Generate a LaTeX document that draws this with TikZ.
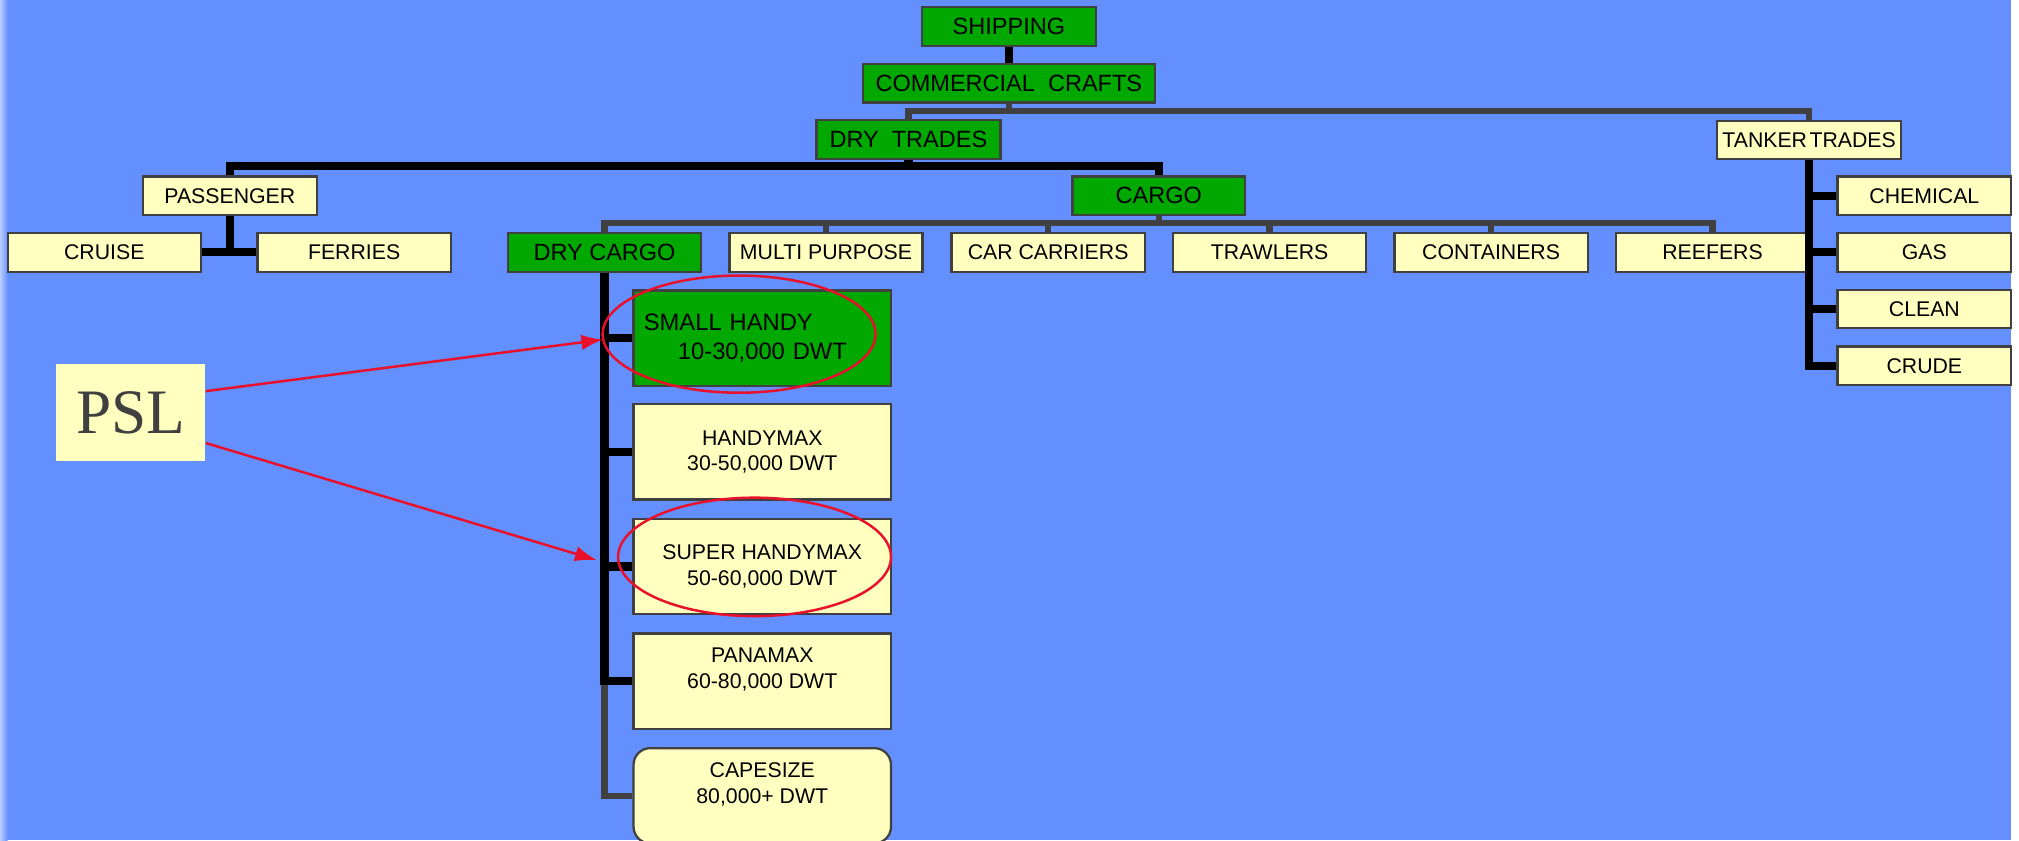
\documentclass[tikz,border=0pt]{standalone}
\usepackage{fontspec}
\setmainfont{Liberation Sans}
\newfontfamily\pslfont{Liberation Serif}
\usetikzlibrary{arrows.meta}
\definecolor{slidebg}{RGB}{100,143,255}
\definecolor{boxgreen}{RGB}{0,168,0}
\definecolor{boxyellow}{RGB}{255,255,192}
\definecolor{rimgray}{RGB}{64,64,64}
\definecolor{markred}{RGB}{232,16,42}

\begin{document}
\begin{tikzpicture}[x=0.02cm, y=-0.02cm]
  \fill[white] (0,0) rectangle (1568,652.4);
  \fill[slidebg] (0,0) rectangle (1562,652.4);
  \shade[left color=white!55!slidebg, right color=slidebg] (0,0) rectangle (6,652.4);
  \useasboundingbox (0,0) rectangle (1568,652.4);

  \tikzstyle{box}=[draw=rimgray, line width=1pt, inner xsep=1pt, inner ysep=0pt, minimum height=0.6cm, font=\fontsize{9.4}{11.3}\selectfont]
  \tikzstyle{major}=[box, fill=boxgreen, font=\fontsize{10.4}{12.5}\selectfont]
  \tikzstyle{minor}=[box, fill=boxyellow]
  \tikzstyle{tonnage}=[minor, minimum width=4cm, minimum height=1.48cm, align=center]
  \tikzstyle{trunk}=[black, line width=3.6pt]
  \tikzstyle{twig}=[rimgray, line width=2.8pt]
  \tikzstyle{ring}=[markred, line width=1.1pt]
  \tikzstyle{pointer}=[markred, line width=1.1pt, -{Latex[length=0.34cm, width=0.24cm]}]

  \node[major, minimum width=2.7cm] (shipping) at (783.5,20.7) {SHIPPING};
  \node[major, minimum width=4.54cm] (crafts) at (783.5,64.7) {COMMERCIAL~~CRAFTS};
  \node[major, minimum width=2.86cm] (drytrades) at (705.5,108.4) {DRY~~TRADES};
  \node[minor, minimum width=2.86cm] (tanker) at (1405,108.7) {TANKER\hspace{0.12em}TRADES};
  \node[minor, minimum width=2.7cm] (passenger) at (178.5,152) {PASSENGER};
  \node[major, minimum width=2.68cm] (cargo) at (900,152) {CARGO};

  \node[minor, minimum width=3cm] (cruise) at (81,196) {CRUISE};
  \node[minor, minimum width=3cm] (ferries) at (275,196) {FERRIES};
  \node[major, minimum width=3cm] (drycargo) at (469.5,196) {DRY CARGO};
  \node[minor, minimum width=3cm] (multi) at (641.5,196) {MULTI PURPOSE};
  \node[minor, minimum width=3cm] (carcarriers) at (814,196) {CAR CARRIERS};
  \node[minor, minimum width=3cm] (trawlers) at (986,196) {TRAWLERS};
  \node[minor, minimum width=3cm] (containers) at (1158,196) {CONTAINERS};
  \node[minor, minimum width=3cm] (reefers) at (1330,196) {REEFERS};

  \node[minor, minimum width=2.7cm] (chemical) at (1494.5,152) {CHEMICAL};
  \node[minor, minimum width=2.7cm] (gas) at (1494.5,196) {GAS};
  \node[minor, minimum width=2.7cm] (clean) at (1494.5,240) {CLEAN};
  \node[minor, minimum width=2.7cm] (crude) at (1494.5,284) {CRUDE};

  \node[tonnage, fill=boxgreen, align=left, text width=3.68cm, font=\fontsize{10.5}{13}\selectfont] (smallhandy) at (592,262.5) {SMALL HANDY\\\hspace*{0.53cm}10-30,000 DWT};
  \node[tonnage] (handymax) at (592,351) {HANDYMAX\\30-50,000 DWT};
  \node[tonnage] (superhandy) at (592,440) {SUPER HANDYMAX\\50-60,000 DWT};
  \node[tonnage] (panamax) at (592,529) {PANAMAX\\60-80,000 DWT\\\vphantom{P}};
  \node[tonnage, rounded corners=0.26cm] (capesize) at (592,618) {CAPESIZE\\80,000+ DWT\\\vphantom{P}};

  \node[fill=boxyellow, inner sep=0pt, minimum width=2.32cm, minimum height=1.5cm, text=rimgray, font=\pslfont\fontsize{28}{30}\selectfont] (psl) at (101.5,320.5) {PSL};

  \draw[trunk] (shipping) -- (crafts);
  \draw[twig] (drytrades.north) -- ++(0,-6.5) coordinate (craftsfork) -| (tanker.north);
  \draw[twig] (crafts) -- (crafts |- craftsfork);
  \draw[trunk] (passenger.north) -- ++(0,-7) coordinate (drytradesfork) -| (cargo.north);
  \draw[trunk] (drytrades) -- (drytrades |- drytradesfork);
  \draw[trunk] (passenger) -- (passenger |- cruise);
  \draw[trunk] (cruise) -- (ferries);

  \draw[twig] (drycargo.north) -- ++(0,-7) coordinate (cargofork) -| (reefers.north);
  \draw[twig] (cargo) -- (cargo |- cargofork);
  \draw[twig] (multi) -- (multi |- cargofork);
  \draw[twig] (carcarriers) -- (carcarriers |- cargofork);
  \draw[twig] (trawlers) -- (trawlers |- cargofork);
  \draw[twig] (containers) -- (containers |- cargofork);

  \draw[trunk] (tanker) |- (crude);
  \draw[trunk] (chemical) -- (chemical -| tanker);
  \draw[trunk] (gas) -- (gas -| tanker);
  \draw[trunk] (clean) -- (clean -| tanker);

  \draw[twig] (drycargo) |- (capesize);
  \draw[trunk] (drycargo) |- (panamax);
  \draw[trunk] (smallhandy) -- (smallhandy -| drycargo);
  \draw[trunk] (handymax) -- (handymax -| drycargo);
  \draw[trunk] (superhandy) -- (superhandy -| drycargo);

  \draw[ring] (574,259.5) ellipse [x radius=2.12cm, y radius=0.91cm];
  \draw[ring] (586,432.5) ellipse [x radius=2.12cm, y radius=0.92cm];

  \coordinate (smallhandytip) at (468.5,263.7);
  \coordinate (superhandytip) at (463.5,435);
  \draw[pointer] (psl.16) -- (smallhandytip);
  \draw[pointer] (psl.-22) -- (superhandytip);
\end{tikzpicture}
\end{document}
